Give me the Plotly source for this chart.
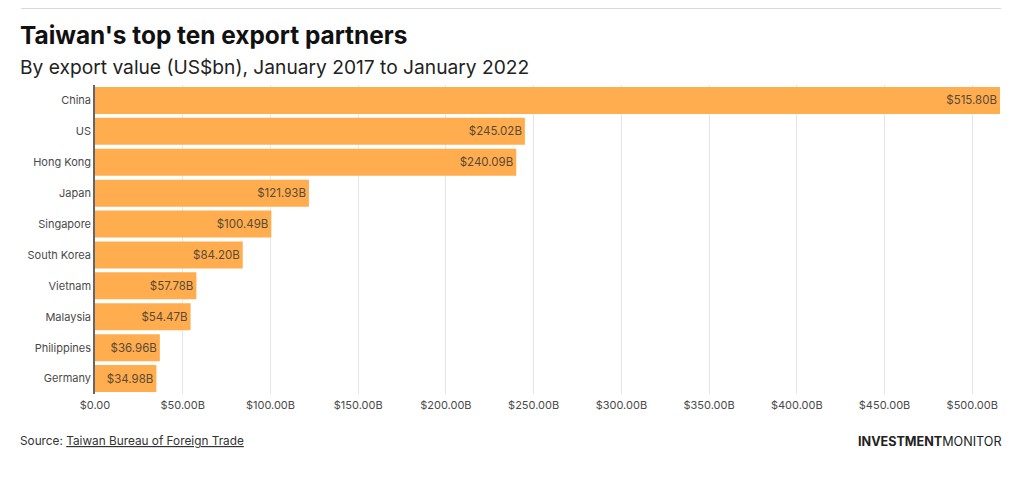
import plotly.graph_objects as go

countries = ["China", "US", "Hong Kong", "Japan", "Singapore", "South Korea", "Vietnam", "Malaysia", "Philippines", "Germany"]
values = [515.80, 245.02, 240.09, 121.93, 100.49, 84.20, 57.78, 54.47, 36.96, 34.98]
tick_vals = [0, 50, 100, 150, 200, 250, 300, 350, 400, 450, 500]
tick_text = ["$0.00"] + [f"${v}.00B" for v in tick_vals[1:]]
bar_text = [f"${v:.2f}B" for v in values]

# page has an 8px body margin, so the figure is 1020x481 and sits at (8, 8)
W = 1020
H = 481
LEFT = 87
RIGHT = 28
TOP = 77
BOTTOM = 95
font_name = "Inter"
grey = "#4a4a4a"

fig = go.Figure()
fig.add_trace(go.Bar(
    y=countries,
    x=values,
    orientation="h",
    marker=dict(color="#ffad4f", line=dict(width=0)),
    text=bar_text,
    textposition="inside",
    insidetextanchor="end",
    textangle=0,
    textfont=dict(family=font_name, size=11.5, color="#5a4a35"),
    cliponaxis=False,
))

fig.update_layout(
    width=W,
    height=H,
    margin=dict(l=LEFT, r=RIGHT, t=TOP, b=BOTTOM, pad=0),
    paper_bgcolor="white",
    plot_bgcolor="white",
    showlegend=False,
    bargap=0.126,
    font=dict(family=font_name, color=grey),
)
fig.update_xaxes(
    range=[0, 515.8],
    tickvals=tick_vals,
    ticktext=tick_text,
    showgrid=True,
    gridcolor="#e6e6e6",
    gridwidth=1,
    zeroline=False,
    showline=False,
    ticks="",
    ticklabelstandoff=3,
    tickfont=dict(size=11, color=grey),
)
fig.update_yaxes(
    autorange="reversed",
    showgrid=False,
    zeroline=False,
    showline=True,
    linecolor="#666666",
    linewidth=1.5,
    ticks="",
    tickfont=dict(size=11, color=grey),
)


def paper_x(px):
    return (px - 8 - LEFT) / (W - LEFT - RIGHT)


def paper_y(py):
    return 1 - (py - 8 - TOP) / (H - TOP - BOTTOM)


def page_note(text, px, py, size, color, anchor="left"):
    fig.add_annotation(
        text=text,
        x=paper_x(px),
        y=paper_y(py),
        xref="paper", yref="paper",
        xanchor=anchor, yanchor="middle", showarrow=False,
        borderpad=0, borderwidth=0,
        font=dict(family=font_name, size=size, color=color),
    )


page_note("<b>Taiwan's top ten export partners</b>", 20, 35, 24.4, "#111111")
page_note("By export value (US$bn), January 2017 to January 2022", 20, 67, 19.2, "#222222")
page_note("Source: <u>Taiwan Bureau of Foreign Trade</u>", 20, 441, 11.8, "#333333")
page_note("<b>INVESTMENT</b>MONITOR", 1002, 441, 12.6, "#222222", anchor="right")

fig.add_shape(
    type="line", xref="paper", yref="paper",
    x0=paper_x(21), x1=paper_x(1001),
    y0=paper_y(8.5), y1=paper_y(8.5),
    line=dict(color="#d9d9d9", width=1),
)

fig.write_html("out.html")
